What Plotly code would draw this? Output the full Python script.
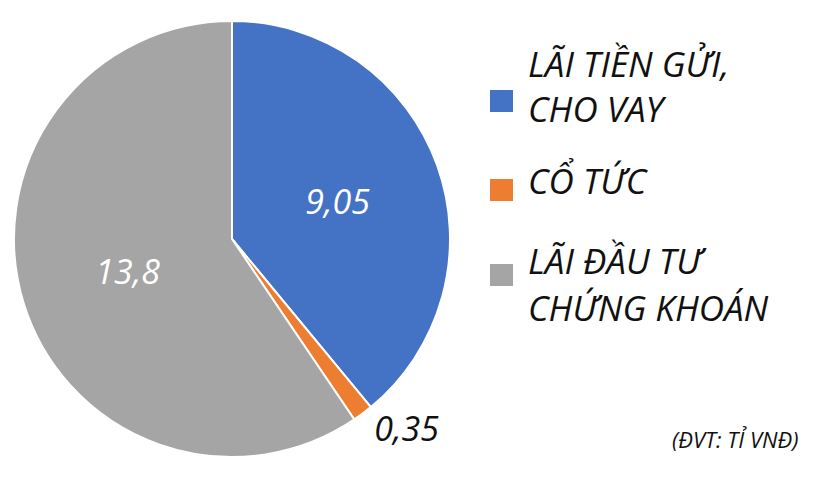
import plotly.graph_objects as go

labels = ['LÃI TIỀN GỬI,<br>CHO VAY', 'CỔ TỨC', 'LÃI ĐẦU TƯ<br>CHỨNG KHOÁN']
values = [9.05, 0.35, 13.8]
colors = ['#4472C4', '#ED7D31', '#A5A5A5']
unit_note = '(ĐVT: TỈ VNĐ)'

FONT = 'Open Sans'
W, H = 823, 480

value_text = [f'{v:g}'.replace('.', ',') for v in values]

fig = go.Figure()
fig.add_trace(go.Pie(labels=labels,
                     values=values,
                     text=value_text,
                     textinfo='text',
                     textposition=['inside', 'outside', 'inside'],
                     insidetextorientation='horizontal',
                     sort=False,
                     direction='clockwise',
                     rotation=0,
                     marker={'colors': colors,
                             'line': {'color': 'white', 'width': 2}},
                     insidetextfont={'color': 'white', 'size': 34,
                                     'family': FONT, 'style': 'italic'},
                     outsidetextfont={'color': '#111111', 'size': 34,
                                      'family': FONT, 'style': 'italic'},
                     domain={'x': [6 / W, 442 / W], 'y': [1 - 449 / H, 1 - 13 / H]},
                     showlegend=False,
                     hoverinfo='label+value'))

# custom legend: coloured squares + big italic labels
legend_y = [93, 182, 267]
line_y = [[65, 110], [183], [262, 309]]   # cap centres of each text line
for lab, col, yc, ys in zip(labels, colors, legend_y, line_y):
    fig.add_shape(type='rect', xref='paper', yref='paper',
                  x0=482 / W, x1=505 / W,
                  y0=1 - (yc + 11) / H, y1=1 - (yc - 11) / H,
                  fillcolor=col, line={'width': 0})
    for line, ty in zip(lab.split('<br>'), ys):
        fig.add_annotation(x=518 / W, y=1 - (ty - 10) / H,
                           xref='paper', yref='paper',
                           xanchor='left', yanchor='middle',
                           text=line, showarrow=False,
                           font={'family': FONT, 'size': 35, 'color': '#111111',
                                 'style': 'italic'})

fig.add_annotation(x=792 / W, y=1 - 431 / H, xref='paper', yref='paper',
                   xanchor='right', yanchor='middle',
                   text=unit_note, showarrow=False,
                   font={'family': FONT, 'size': 22, 'color': '#111111',
                         'style': 'italic'})

fig.update_layout(width=W, height=H,
                  margin={'l': 0, 'r': 0, 't': 0, 'b': 0},
                  paper_bgcolor='white',
                  plot_bgcolor='white')

fig.write_html('out.html')
